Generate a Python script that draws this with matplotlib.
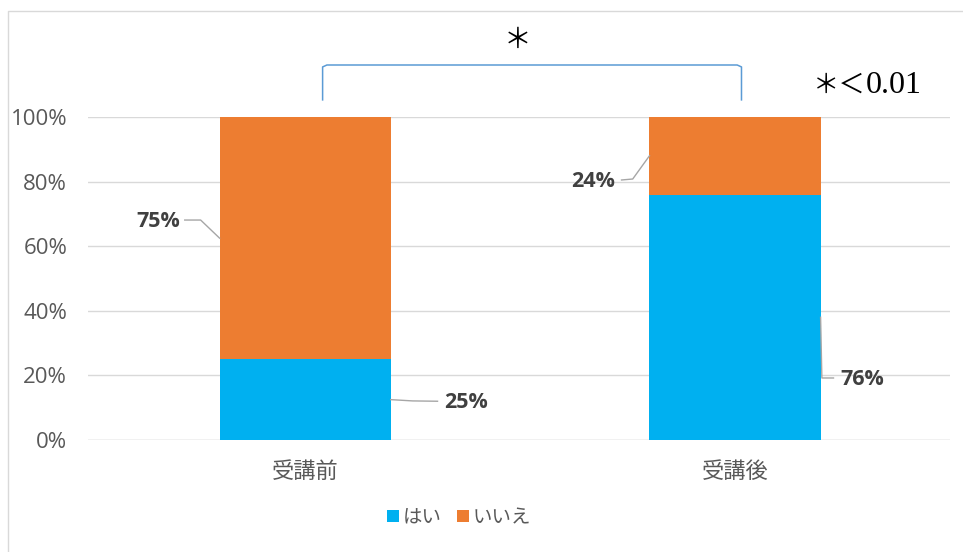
import matplotlib
matplotlib.use('Agg')
import matplotlib.pyplot as plt
from matplotlib.lines import Line2D

# アンケート結果（割合）
categories = ['受講前', '受講後']
yes_vals = [0.25, 0.76]
no_vals = [0.75, 0.24]
series_names = ['はい', 'いいえ']
sig_mark = '＊'
sig_prefix = '＊＜'
sig_p = '0.01'

BLUE = '#00B0F0'
ORANGE = '#ED7D31'
GRID = '#D9D9D9'
TXT = '#595959'
LBL = '#404040'

plt.rcParams['font.family'] = ['Open Sans', 'Noto Sans CJK JP', 'DejaVu Sans']

fig = plt.figure(figsize=(9.63, 5.52), dpi=100)
ax = fig.add_axes([88 / 963, 112 / 552, 862 / 963, 323 / 552])

x = list(range(len(categories)))
bw = 0.398
ax.bar(x, yes_vals, width=bw, color=BLUE, zorder=3, label=series_names[0])
ax.bar(x, no_vals, width=bw, bottom=yes_vals, color=ORANGE, zorder=3,
       label=series_names[1])

ax.set_xlim(-0.505, 1.5)
ax.set_ylim(0, 1)
ax.set_yticks([0, 0.2, 0.4, 0.6, 0.8, 1.0])
ax.set_yticklabels(['%d%%' % round(v * 100) for v in ax.get_yticks()],
                   fontsize=16, color=TXT)
ax.set_xticks(x)
ax.set_xticklabels(categories, fontsize=16, color=TXT)
ax.tick_params(axis='both', length=0)
ax.tick_params(axis='y', pad=15)
ax.tick_params(axis='x', pad=16)
ax.grid(axis='y', color=GRID, lw=1, zorder=0)
for s in ax.spines.values():
    s.set_visible(False)
ax.axhline(0, color=GRID, lw=1, zorder=1)

# データラベルと引き出し線
half = bw / 2
def label(text, pts, tx, ty, ha):
    xs, ys = zip(*pts)
    ax.add_line(Line2D(xs, ys, color='#A6A6A6', lw=1, zorder=4, clip_on=False))
    ax.text(tx, ty, text, ha=ha, va='center', fontsize=15.5, fontweight='bold',
            color=LBL, clip_on=False)

# 受講前
y0 = yes_vals[0] + no_vals[0] * 0.5
label('%d%%' % round(no_vals[0] * 100),
      [(-half, y0), (-0.243, y0 + 0.056), (-0.28, y0 + 0.056)],
      -0.29, y0 + 0.053, 'right')
y1 = yes_vals[0] * 0.5
label('%d%%' % round(yes_vals[0] * 100),
      [(half, y1), (0.25, y1 - 0.004), (0.308, y1 - 0.005)],
      0.324, y1 - 0.010, 'left')

# 受講後
y2 = yes_vals[1] + no_vals[1] * 0.5
label('%d%%' % round(no_vals[1] * 100),
      [(1 - half, y2), (0.762, y2 - 0.072), (0.736, y2 - 0.075)],
      0.72, y2 - 0.081, 'right')
y3 = yes_vals[1] * 0.5
label('%d%%' % round(yes_vals[1] * 100),
      [(1 + half, y3), (1 + half + 0.003, y3 - 0.188),
       (1.229, y3 - 0.188)],
      1.245, y3 - 0.194, 'left')

# 有意差の括弧
bx0, bx1 = 0.0407, 1.015
by0, by1 = 1.053, 1.161
ax.add_line(Line2D([bx0, bx0, bx0 + 0.01, bx1 - 0.01, bx1, bx1],
                   [by0, by1 - 0.006, by1, by1, by1 - 0.006, by0],
                   color='#5B9BD5', lw=1.1, clip_on=False))
ax.text(0.494, 1.24, sig_mark, ha='center', va='center', fontsize=20,
        family=['Noto Sans CJK JP'], color='black', clip_on=False)
ax.text(1.303, 1.097, sig_prefix, ha='right', va='center', fontsize=19,
        family=['Noto Sans CJK JP'], color='black', clip_on=False)
ax.text(1.303, 1.097, sig_p, ha='left', va='center', fontsize=23,
        family=['Liberation Serif'], color='black', clip_on=False)

# 凡例
leg = fig.legend(loc='center', bbox_to_anchor=(459 / 963, 1 - 518 / 552),
                 ncol=2, frameon=False, fontsize=14, handlelength=0.6,
                 handleheight=0.6, handletextpad=0.2, columnspacing=0.8,
                 borderaxespad=0)
for t in leg.get_texts():
    t.set_color(TXT)

# グラフ枠（左と上）
fig.add_artist(Line2D([8 / 963, 8 / 963, 1], [0, 541 / 552, 541 / 552],
                      transform=fig.transFigure, color='#D9D9D9', lw=1))

fig.savefig('out.png', dpi=100)
